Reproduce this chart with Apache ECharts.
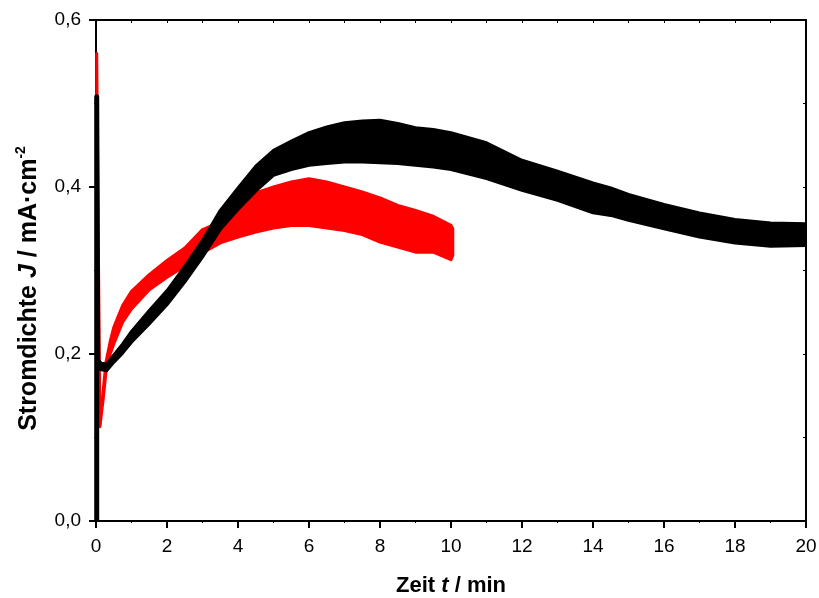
<!DOCTYPE html>
<html>
<head>
<meta charset="utf-8">
<script src="https://cdn.jsdelivr.net/npm/echarts@6/dist/echarts.min.js"></script>
<style>html,body{margin:0;padding:0;background:#fff}#c{width:819px;height:598px}</style>
</head>
<body>
<div id="c"></div>
<script>
// ---- data ----
const xTicks = [0, 2, 4, 6, 8, 10, 12, 14, 16, 18, 20];
const yTicks = [0.0, 0.2, 0.4, 0.6];

// black run: initial spike, then noisy band (lower / upper envelope)
const blackSpike = [[0.02, 0], [0.02, 0.508], [0.05, 0.188]];
const blackT  = [0.05, 0.15, 0.3, 0.5, 0.75, 1, 1.5, 2, 2.5, 3, 3.5, 4, 4.5, 5, 5.5, 6, 6.5, 7, 7.5, 8, 8.5, 9, 9.5, 10, 11, 12, 13, 14, 14.5, 15, 16, 17, 18, 19, 20];
const blackLo = [0.183, 0.181, 0.180, 0.190, 0.201, 0.214, 0.236, 0.259, 0.286, 0.316, 0.349, 0.373, 0.395, 0.414, 0.421, 0.426, 0.428, 0.430, 0.430, 0.429, 0.428, 0.426, 0.424, 0.421, 0.410, 0.396, 0.384, 0.369, 0.366, 0.360, 0.350, 0.340, 0.333, 0.329, 0.330];
const blackHi = [0.193, 0.189, 0.188, 0.199, 0.212, 0.227, 0.252, 0.276, 0.305, 0.336, 0.372, 0.399, 0.425, 0.444, 0.455, 0.465, 0.472, 0.477, 0.479, 0.480, 0.476, 0.471, 0.469, 0.465, 0.453, 0.432, 0.419, 0.405, 0.399, 0.391, 0.379, 0.369, 0.361, 0.357, 0.356];

// red run
const redSpike = [[0.02, 0], [0.02, 0.56], [0.11, 0.115]];
const redT  = [0.11, 0.2, 0.28, 0.4, 0.5, 0.75, 1, 1.5, 2, 2.5, 3, 3.5, 4, 4.5, 5, 5.5, 6, 6.5, 7, 7.5, 8, 8.5, 9, 9.5, 10, 10.05];
const redLo = [0.113, 0.145, 0.178, 0.200, 0.212, 0.238, 0.254, 0.277, 0.292, 0.305, 0.321, 0.333, 0.340, 0.346, 0.351, 0.354, 0.354, 0.351, 0.348, 0.343, 0.334, 0.328, 0.322, 0.322, 0.313, 0.318];
const redHi = [0.118, 0.155, 0.190, 0.215, 0.232, 0.258, 0.275, 0.295, 0.312, 0.327, 0.349, 0.358, 0.376, 0.393, 0.400, 0.406, 0.410, 0.406, 0.400, 0.394, 0.387, 0.378, 0.372, 0.365, 0.354, 0.350];

// ---- chart ----
const FONT = 'Liberation Sans, Arial, sans-serif';
const fmtY = v => v.toFixed(1).replace('.', ',');

function band(name, ts, lo, hi, color, z) {
  const data = ts.map((t, i) => [t, lo[i], hi[i]]);
  return {
    type: 'custom', name: name, z: z, clip: true,
    data: data,
    encode: { x: 0, y: [1, 2] },
    renderItem: function (params, api) {
      if (params.dataIndex !== 0) return null;
      const pts = [];
      for (let i = 0; i < ts.length; i++) pts.push(api.coord([ts[i], lo[i]]));
      for (let i = ts.length - 1; i >= 0; i--) pts.push(api.coord([ts[i], hi[i]]));
      return {
        type: 'polygon',
        shape: { points: pts },
        style: { fill: color, stroke: color, lineWidth: 3, lineJoin: 'round' }
      };
    }
  };
}

function spike(name, data, color, w, z) {
  return {
    type: 'line', name: name, data: data, z: z, clip: false,
    showSymbol: false, symbol: 'none', animation: false,
    lineStyle: { color: color, width: w, join: 'round' }
  };
}

const chart = echarts.init(document.getElementById('c'), null, { renderer: 'canvas' });
chart.setOption({
  animation: false,
  backgroundColor: '#fff',
  textStyle: { fontFamily: FONT },
  grid: { left: 96, right: 13, top: 20, bottom: 77, containLabel: false, outerBoundsMode: 'none' },
  xAxis: [{
    type: 'value', min: xTicks[0], max: xTicks[xTicks.length - 1], interval: 2,
    position: 'bottom',
    name: '{b|Zeit }{i|t}{b| / min}', nameLocation: 'middle', nameGap: 54,
    nameTextStyle: { rich: {
      b: { fontFamily: FONT, fontWeight: 'bold', fontSize: 22, color: '#000' },
      i: { fontFamily: FONT, fontWeight: 'bold', fontStyle: 'italic', fontSize: 22, color: '#000' }
    } },
    axisLine: { show: true, onZero: false, lineStyle: { color: '#000', width: 2 } },
    axisTick: { show: true, length: 7, lineStyle: { color: '#000', width: 2 } },
    minorTick: { show: true, splitNumber: 2, length: 2, lineStyle: { color: '#000', width: 1 } },
    axisLabel: { margin: 16, fontSize: 19, color: '#000', fontFamily: FONT },
    splitLine: { show: false }, minorSplitLine: { show: false }
  }, {
    type: 'value', min: xTicks[0], max: xTicks[xTicks.length - 1], interval: 2,
    position: 'top',
    axisLine: { show: true, onZero: false, lineStyle: { color: '#000', width: 2 } },
    axisTick: { show: true, inside: true, length: 3, lineStyle: { color: '#000', width: 1 } },
    minorTick: { show: true, splitNumber: 2, length: 3, lineStyle: { color: '#000', width: 1 } },
    axisLabel: { show: false }, splitLine: { show: false }
  }],
  yAxis: [{
    type: 'value', min: yTicks[0], max: yTicks[yTicks.length - 1], interval: 0.2,
    position: 'left',
    name: '{b|Stromdichte }{i|J}{b| / mA·cm}{s|-2}', nameLocation: 'middle', nameGap: 52, nameRotate: 90,
    nameTextStyle: { padding: [0, 36, 0, 0], rich: {
      b: { fontFamily: FONT, fontWeight: 'bold', fontSize: 25, color: '#000' },
      i: { fontFamily: FONT, fontWeight: 'bold', fontStyle: 'italic', fontSize: 25, color: '#000' },
      s: { fontFamily: FONT, fontWeight: 'bold', fontSize: 14, color: '#000', verticalAlign: 'top', padding: [0, 0, 16, 0] }
    } },
    axisLine: { show: true, onZero: false, lineStyle: { color: '#000', width: 2 } },
    axisTick: { show: true, length: 7, lineStyle: { color: '#000', width: 2 } },
    minorTick: { show: true, splitNumber: 2, length: 2, lineStyle: { color: '#000', width: 1 } },
    axisLabel: { margin: 15, fontSize: 19, color: '#000', fontFamily: FONT, formatter: fmtY },
    splitLine: { show: false }
  }, {
    type: 'value', min: yTicks[0], max: yTicks[yTicks.length - 1], interval: 0.2,
    position: 'right',
    axisLine: { show: true, onZero: false, lineStyle: { color: '#000', width: 2 } },
    axisTick: { show: true, inside: true, length: 3, lineStyle: { color: '#000', width: 1 } },
    minorTick: { show: true, splitNumber: 2, length: 3, lineStyle: { color: '#000', width: 1 } },
    axisLabel: { show: false }, splitLine: { show: false }
  }],
  series: [
    spike('red spike', redSpike, '#ff0000', 3, 3),
    band('red', redT, redLo, redHi, '#ff0000', 4),
    spike('black spike', blackSpike, '#000000', 5, 5),
    band('black', blackT, blackLo, blackHi, '#000000', 6)
  ]
});
</script>
</body>
</html>
